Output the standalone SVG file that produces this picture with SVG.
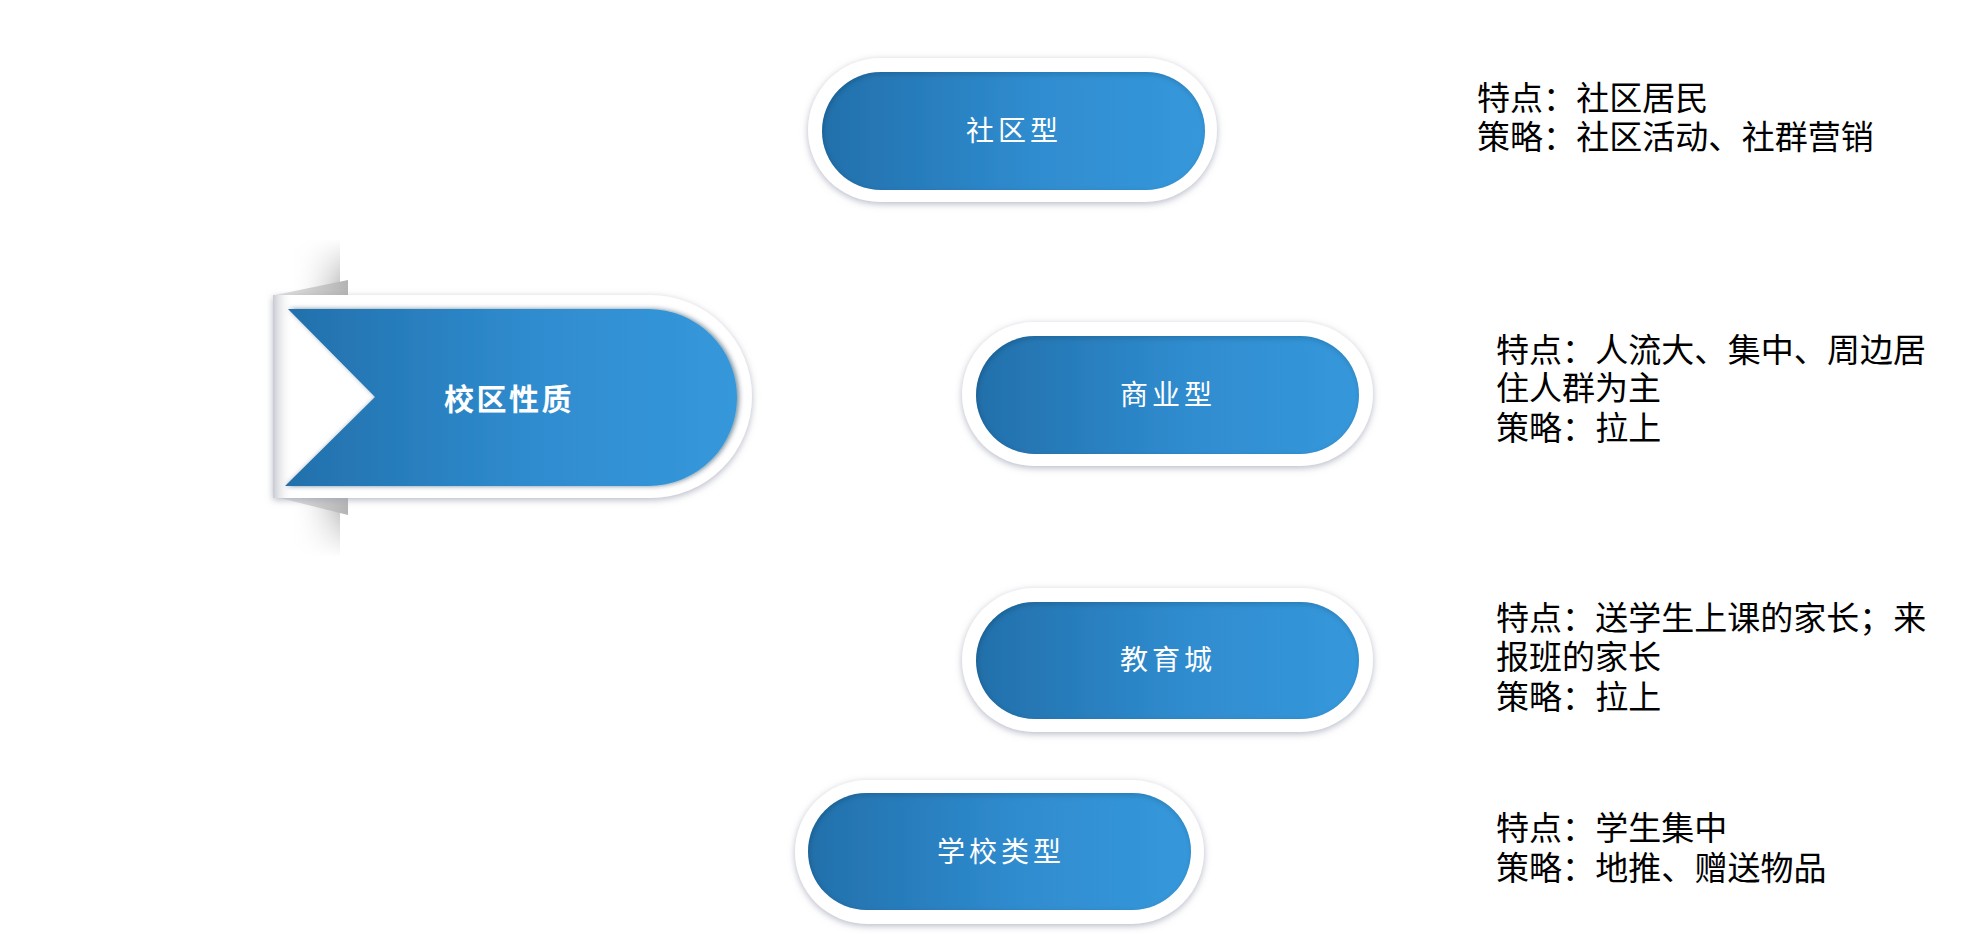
<svg xmlns="http://www.w3.org/2000/svg" width="1984" height="934" viewBox="0 0 1984 934">
<defs>
  <linearGradient id="blue" x1="0" y1="0" x2="1" y2="0">
    <stop offset="0" stop-color="#2270ab"/>
    <stop offset="0.55" stop-color="#2f8ccf"/>
    <stop offset="1" stop-color="#3598db"/>
  </linearGradient>
  <linearGradient id="bandH" x1="0" y1="0" x2="1" y2="0">
    <stop offset="0" stop-color="#ffffff" stop-opacity="0"/>
    <stop offset="1" stop-color="#c4c4c4"/>
  </linearGradient>
  <linearGradient id="fadeUp" x1="0" y1="0" x2="0" y2="1">
    <stop offset="0" stop-color="#fff" stop-opacity="1"/>
    <stop offset="1" stop-color="#fff" stop-opacity="0"/>
  </linearGradient>
  <linearGradient id="fadeDown" x1="0" y1="0" x2="0" y2="1">
    <stop offset="0" stop-color="#fff" stop-opacity="0"/>
    <stop offset="1" stop-color="#fff" stop-opacity="1"/>
  </linearGradient>
  <linearGradient id="fold" x1="0" y1="0" x2="1" y2="0">
    <stop offset="0" stop-color="#e6e6e6"/>
    <stop offset="1" stop-color="#b4b4b4"/>
  </linearGradient>
  <linearGradient id="leftShade" x1="0" y1="0" x2="1" y2="0">
    <stop offset="0" stop-color="#c8cad2"/>
    <stop offset="1" stop-color="#ffffff" stop-opacity="0"/>
  </linearGradient>
  <filter id="drop" x="-10%" y="-20%" width="120%" height="140%">
    <feGaussianBlur in="SourceAlpha" stdDeviation="3.5"/>
    <feOffset dx="0" dy="2" result="b"/>
    <feFlood flood-color="#9ea3b5" flood-opacity="0.75"/>
    <feComposite in2="b" operator="in"/>
    <feMerge><feMergeNode/><feMergeNode in="SourceGraphic"/></feMerge>
  </filter>
  <filter id="inset" x="-5%" y="-10%" width="110%" height="120%">
    <feFlood flood-color="#000" result="f"/>
    <feComposite in="f" in2="SourceAlpha" operator="out" result="inv"/>
    <feGaussianBlur in="inv" stdDeviation="3"/>
    <feOffset dx="1" dy="2" result="sh"/>
    <feComposite in="sh" in2="SourceAlpha" operator="in" result="shin"/>
    <feComponentTransfer in="shin" result="shade"><feFuncA type="linear" slope="0.35"/></feComponentTransfer>
    <feMerge><feMergeNode in="SourceGraphic"/><feMergeNode in="shade"/></feMerge>
  </filter>
  <filter id="notchSh" x="-10%" y="-10%" width="120%" height="120%">
    <feGaussianBlur in="SourceAlpha" stdDeviation="2.5"/>
    <feOffset dx="2" dy="0" result="b"/>
    <feFlood flood-color="#0a2a45" flood-opacity="0.55"/>
    <feComposite in2="b" operator="in"/>
    <feMerge><feMergeNode/><feMergeNode in="SourceGraphic"/></feMerge>
  </filter>
</defs>
<style>
  .outer { fill: #ffffff; filter: url(#drop); }
  .inner { fill: url(#blue); filter: url(#inset); }
  .lbl { font-family: "Noto Sans CJK SC", "Noto Sans", sans-serif; font-size: 28px; fill: #ffffff; text-anchor: middle; letter-spacing: 4px; }
  .desc { font-family: "Noto Sans CJK SC", "Noto Sans", sans-serif; font-size: 33px; fill: #000000; }
</style>
<rect width="1984" height="934" fill="#ffffff"/>

<g id="connectors"></g>

<g id="root">
  <rect x="290" y="240" width="50" height="316" fill="url(#bandH)"/>
  <rect x="288" y="238" width="54" height="50" fill="url(#fadeUp)"/>
  <rect x="288" y="507" width="54" height="50" fill="url(#fadeDown)"/>
  <polygon points="275,295 348,280 348,295" fill="url(#fold)"/>
  <polygon points="280,498 348,515 348,498" fill="url(#fold)"/>
  <path class="outer" d="M273,295 H650.5 A101.5,101.5 0 0 1 650.5,498 H273 Z"/>
  <rect x="273" y="295" width="20" height="203" fill="url(#leftShade)"/>
  <g filter="url(#notchSh)">
    <path fill="url(#blue)" d="M288,309 H648.5 A88.5,88.5 0 0 1 648.5,486 H285 L375,397 Z"/>
  </g>
  <text x="509" y="410" class="lbl" style="font-weight:bold;font-size:30px;letter-spacing:2.5px">校区性质</text>
</g>

<g id="n1">
  <rect class="outer" x="808" y="58" width="409" height="144" rx="72"/>
  <rect class="inner" x="822" y="72" width="383" height="118" rx="59"/>
  <text x="1014" y="141" class="lbl">社区型</text>
</g>
<g id="n2">
  <rect class="outer" x="962" y="322" width="411" height="144" rx="72"/>
  <rect class="inner" x="976" y="336" width="383" height="118" rx="59"/>
  <text x="1168" y="405" class="lbl">商业型</text>
</g>
<g id="n3">
  <rect class="outer" x="962" y="588" width="411" height="144" rx="72"/>
  <rect class="inner" x="976" y="602" width="383" height="117" rx="58.5"/>
  <text x="1168" y="670" class="lbl">教育城</text>
</g>
<g id="n4">
  <rect class="outer" x="795" y="780" width="409" height="144" rx="72"/>
  <rect class="inner" x="808" y="793" width="383" height="117" rx="58.5"/>
  <text x="1001" y="862" class="lbl">学校类型</text>
</g>

<g id="d1" class="desc">
  <text x="1477" y="110">特点：<tspan x="1576.3">社区居民</tspan></text>
  <text x="1477" y="149">策略：<tspan x="1576.3">社区活动、</tspan><tspan x="1741.8">社群营销</tspan></text>
</g>
<g id="d2" class="desc">
  <text x="1496" y="362">特点：<tspan x="1595.3">人流大、</tspan><tspan x="1727.7">集中、</tspan><tspan x="1827">周边居</tspan></text>
  <text x="1496" y="400">住人群为主</text>
  <text x="1496" y="440">策略：<tspan x="1595.3">拉上</tspan></text>
</g>
<g id="d3" class="desc">
  <text x="1496" y="630">特点：<tspan x="1595.3">送学生上课的家长；</tspan><tspan x="1893.2">来</tspan></text>
  <text x="1496" y="669">报班的家长</text>
  <text x="1496" y="709">策略：<tspan x="1595.3">拉上</tspan></text>
</g>
<g id="d4" class="desc">
  <text x="1496" y="840">特点：<tspan x="1595.3">学生集中</tspan></text>
  <text x="1496" y="880">策略：<tspan x="1595.3">地推、</tspan><tspan x="1694.6">赠送物品</tspan></text>
</g>
</svg>
